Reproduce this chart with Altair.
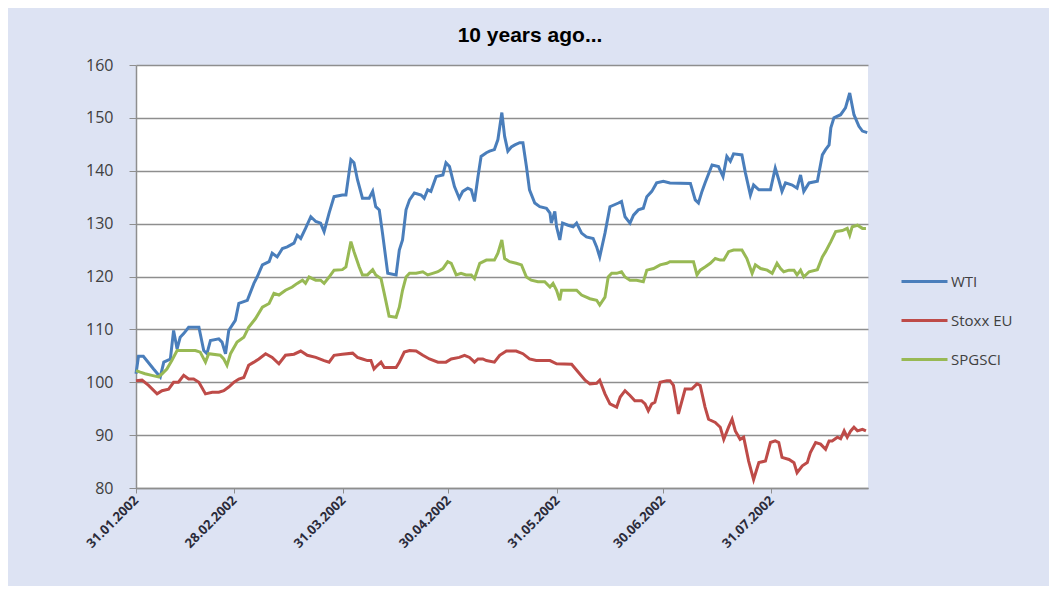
import altair as alt
import pandas as pd

# ---- data (days after 31.01.2002, index values) ----
series_names = ["WTI", "Stoxx EU", "SPGSCI"]
series_colors = ["#4a7ebb", "#be4b48", "#98b954"]
tick_dates = ["31.01.2002", "28.02.2002", "31.03.2002", "30.04.2002",
              "31.05.2002", "30.06.2002", "31.07.2002"]
y_ticks = [80, 90, 100, 110, 120, 130, 140, 150, 160]

wti_days = [0, 0.7, 2.1, 5, 6.9, 7.9, 9.8, 10.7, 11.7, 12.6, 13.6, 15, 17.9, 19.3, 20.2, 21.2,
            23.6, 24.5, 25.5, 26.4, 28.3, 29.3, 31.7, 33.6, 34.5, 36, 37.9, 38.8, 40.2, 41.7,
            43.1, 45, 45.9, 46.9, 48.3, 49.8,
            51.2, 52.6, 53.6, 55, 56.4, 58.8, 59.8, 61.2, 62.1, 63.1, 64.5, 66.4, 67.4, 68.3,
            69.3, 70.2, 71.7, 74.1, 75, 75.9, 76.9, 77.9, 79.3, 81.2, 82.1, 83.1, 84, 85.5,
            87.4, 88.3, 89.3, 90.7, 92.1, 93.1, 94.5, 95.5, 96.4, 97.4, 98.3, 99.8,
            100.7, 102.1, 103.1, 104.2, 105, 105.9, 106.9, 107.9, 109.3, 110.2, 111.2, 112.1,
            113.6, 115, 116.9, 117.9, 118.3, 119.3, 119.8, 120.7, 121.5, 123.1, 124.5, 125.5,
            126.9, 128.3, 130.2, 131.2, 132.1, 133.6, 135, 137.4, 138.3, 139.3, 140.7, 141.7,
            143.1, 144.5, 145.5, 146.9, 148.3, 150.2,
            152.1, 157.9, 159.3, 160.2, 161.2, 162.1, 164.1, 165.9, 167.2, 168.3, 169.3, 170.2,
            172.6, 173.6, 175, 175.9, 177.4, 180.7, 182.1, 183.1, 184, 185, 186.9, 188.3,
            189.3, 190.2, 191.7, 194.1, 195.5, 196.4, 197.4, 197.9, 198.8, 200.7, 202.1,
            203.3, 204.5, 205.9, 206.9, 208.3]
wti_vals = [101.6, 104.9, 104.9, 102.5, 101.0, 103.8, 104.4, 109.8, 106.3, 108.5, 109.2, 110.4,
            110.4, 106.0, 105.4, 107.9, 108.2, 107.6, 105.4, 109.8, 111.7, 114.9, 115.5, 118.7,
            119.9, 122.2, 122.8, 124.4, 123.7, 125.3, 125.6, 126.3, 127.8, 127.2, 129.1, 131.3,
            130.4, 130.1, 128.5, 132.0, 135.1, 135.4, 135.4, 142.1, 141.5, 138.3, 134.8, 134.8,
            136.1, 133.2, 132.6, 128.2, 120.6, 120.3, 125.0, 126.9, 132.6, 134.5, 135.8, 135.4,
            134.8, 136.4, 136.1, 138.9, 139.2, 141.5, 140.8, 137.0, 134.8, 136.1, 136.7, 136.4,
            134.2, 138.9, 142.7, 143.4,
            143.7, 144.0, 145.9, 151.0, 146.5, 143.7, 144.5, 144.9, 145.3, 145.3, 140.8, 136.4,
            133.9, 133.2, 132.9, 132.0, 130.1, 132.3, 129.4, 126.9, 130.1, 129.7, 129.4, 130.1,
            128.2, 127.5, 127.2, 125.6, 123.7, 128.2, 133.2, 133.9, 134.2, 131.3, 130.1, 131.6,
            132.6, 132.9, 135.1, 136.1, 137.7, 138.0,
            137.7, 137.6, 134.5, 133.9, 136.1, 137.7, 141.1, 140.8, 138.9, 142.7, 141.8, 143.2,
            143.0, 139.6, 135.4, 137.3, 136.4, 136.4, 140.5, 138.3, 136.1, 137.7, 137.3, 136.7,
            139.2, 136.1, 137.7, 138.0, 143.0, 144.0, 144.9, 148.1, 150.0, 150.6, 151.9,
            154.7, 150.6, 148.4, 147.5, 147.2]

stoxx_days = [0, 1.7, 3.6, 6, 7.4, 9.3, 10.7, 12.1, 13.6, 15, 16.4, 17.9, 19.8, 21.7, 23.6, 25,
              26.4, 27.9, 29.3, 30.7, 32.1, 33.6, 35, 36.9, 38.8, 40.7, 42.6, 45, 46.9, 48.8,
              51.2, 53.6, 55, 56.4, 58.8, 61.7, 63.1, 64.5, 65.9, 66.9, 67.8, 68.8, 69.8, 70.7,
              72.6, 74.1, 75, 76.4, 77.9, 79.8, 81.7, 83.6, 86, 88.3, 89.8, 92.1, 93.6, 95,
              96.4, 97.4, 98.8, 99.8,
              102.1, 103.6, 105.5, 108.3, 110.2, 112.1, 114, 117.9, 119.8, 124.1, 126, 127.9,
              129.3, 131.2, 132.1, 133.6, 135, 136.9, 137.9, 139.3, 140.7, 142.1, 144, 145,
              145.9, 146.9, 147.8, 149.3, 151.2,
              152.1, 153.1, 154.5, 156.4, 158.3, 159.8, 160.7, 162.1, 163.1, 165, 166.4, 167.4,
              168.8, 169.8, 170.7, 172.1, 173.1, 174.5, 175.9, 177.4, 179.3, 180.7, 182.1,
              183.1, 184, 186, 187.4, 188.3, 189.8, 191.2, 192.1, 193.6, 195, 196.4, 197.4,
              198.3, 199.8, 200.7, 201.7, 202.6, 203.6, 204.5, 205.5, 206.9, 207.9]
stoxx_vals = [100.3, 100.4, 99.4, 97.8, 98.4, 98.7, 100.0, 100.0, 101.3, 100.6, 100.6, 100.0,
              97.8, 98.1, 98.1, 98.4, 99.1, 100.0, 100.6, 100.9, 103.2, 103.8, 104.4, 105.4,
              104.7, 103.5, 105.1, 105.3, 105.9, 105.1,
              104.7, 104.1, 103.8, 105.1, 105.3, 105.5, 104.7, 104.4, 104.1, 104.1, 102.5, 103.2,
              103.8, 102.8, 102.8, 102.8, 103.8, 105.7, 106.0, 105.9, 105.1, 104.4, 103.8, 103.8,
              104.4, 104.7, 105.1, 104.7, 103.8, 104.4, 104.4, 104.1,
              103.8, 105.1, 105.9, 105.9, 105.4, 104.4, 104.1, 104.1, 103.5, 103.4, 101.9, 100.4,
              99.7, 99.8, 100.4, 97.8, 95.9, 95.3, 97.2, 98.4, 97.5, 96.5, 96.5, 95.9,
              94.6, 95.9, 96.2, 100.0, 100.3,
              100.3, 99.4, 94.0, 98.7, 98.7, 99.7, 99.4, 95.3, 93.0, 92.4, 91.5, 89.2,
              91.5, 93.0, 90.8, 89.2, 89.6, 85.1, 81.6, 84.8, 85.1, 88.6, 88.9,
              88.6, 85.8, 85.4, 84.8, 82.9, 84.2, 84.8, 86.7, 88.6, 88.3, 87.3, 88.9,
              88.9, 89.6, 89.3, 90.8, 89.6, 90.8, 91.5, 90.8, 91.1, 90.8]

gsci_days = [0, 1.2, 2.6, 4.5, 6.4, 7.4, 8.8, 10.2, 11.7, 13.1, 16.9, 18.3, 19.8, 20.7, 24, 25,
             25.9, 26.9, 28.8, 30.7, 32.1, 34, 36, 37.9, 39.3, 40.7, 42.6, 44.5, 45.9, 47.4, 48.3,
             49.3, 51.2, 52.6, 53.6, 55, 56.4, 58.8, 59.8, 61.2, 62.1, 63.6, 64.5, 65.9, 67.4,
             68.3, 69.8, 70.7, 72.1, 74.1, 75, 75.9, 76.9, 77.9, 79.8, 81.7, 83.1, 84.5, 86,
             87.4, 88.8, 89.8, 91.2, 92.6, 94, 95.5, 96.4, 97.9, 99.8,
             102.1, 103.1, 104.2, 105, 106.4, 108.3, 109.8, 111.2, 112.6, 114.5, 116.4, 117.9,
             118.8, 119.8, 120.7, 121.2, 123.6, 125.5, 126.9, 129.3, 131.2, 132.1, 133.6, 134.5,
             135.5, 136.9, 138.3, 139.3, 140.7, 142.6, 144.5, 145.5, 147.4, 149.3, 151.2,
             152.1, 158.8, 159.8, 160.7, 162.1, 163.6, 165, 166.4, 167.4, 168.8, 170.2, 172.6,
             174, 175.5, 176.4, 177.9, 179.8, 181.2, 182.6, 183.6, 184.5, 186, 187.4, 188.3,
             189.3, 190.2, 191.7, 194.1, 195.5, 196.4, 197.9, 199.3, 201.2, 202.6, 203.3, 204,
             205.5, 206.9, 207.9]
gsci_vals = [102.2, 101.9, 101.6, 101.3, 101.0, 101.6, 102.5, 104.1, 106.0, 106.0, 106.0, 105.7,
             103.8, 105.4, 105.1, 104.4, 103.2, 105.4, 107.6, 108.5, 110.4, 112.0, 114.2, 114.9,
             116.8, 116.5, 117.4, 118.0, 118.7, 119.3, 118.7,
             119.9, 119.3, 119.3, 118.7, 119.9, 121.2, 121.3, 121.8, 126.6, 124.7, 121.8, 120.3,
             120.3, 121.3, 120.3, 119.6, 116.8, 112.5, 112.3, 114.2, 117.4, 119.9, 120.6, 120.6,
             120.9, 120.3, 120.6, 120.9, 121.5, 122.8, 122.5, 120.3, 120.6, 120.3, 120.3, 119.6,
             122.5, 123.1,
             123.1, 124.4, 126.9, 123.4, 122.8, 122.5, 122.2, 119.9, 119.3, 119.0, 119.0, 118.0,
             118.7, 117.4, 115.5, 117.4, 117.4, 117.4, 116.5, 115.8, 115.5, 114.6, 116.1, 119.9,
             120.6, 120.6, 120.9, 119.9, 119.3, 119.3, 119.0, 121.2, 121.5, 122.2, 122.5,
             122.8, 122.8, 120.3, 121.2, 121.8, 122.5, 123.4, 123.1, 123.1, 124.7, 125.0, 125.0,
             123.4, 120.6, 122.2, 121.5, 121.2, 120.6, 122.5, 121.5, 120.9, 121.2, 121.2, 120.3,
             121.2, 119.9, 120.9, 121.3, 123.7, 124.7, 126.6, 128.5, 128.7, 129.1, 127.8, 129.4,
             129.7, 129.1, 129.1]

# ---- build the table ----
base = pd.Timestamp("2002-01-31")
rows = []
for name, days, vals in zip(series_names,
                            [wti_days, stoxx_days, gsci_days],
                            [wti_vals, stoxx_vals, gsci_vals]):
    for d, v in zip(days, vals):
        rows.append({"date": base + pd.Timedelta(hours=round(d * 24)), "value": v, "series": name})
df = pd.DataFrame(rows)
df["date"] = df["date"].dt.strftime("%Y-%m-%dT%H:%M:%S")


def to_dt(s, hours=0):
    d, m, y = (int(p) for p in s.split("."))
    return alt.DateTime(year=y, month=m, date=d, hours=hours)


x_values = [to_dt(s) for s in tick_dates]

FONT = "Open Sans"
GRID = "#8e8e8e"

chart = alt.Chart(df).mark_line(strokeWidth=3, interpolate="linear").encode(
    x=alt.X("date:T",
            scale=alt.Scale(domain=[to_dt("31.01.2002"), to_dt("27.08.2002", 12)]),
            axis=alt.Axis(values=x_values, format="%d.%m.%Y", labelAngle=-45,
                          labelAlign="right", labelBaseline="middle", title=None,
                          grid=False, domainColor=GRID, domainWidth=1.5,
                          tickColor=GRID, tickSize=5, labelPadding=5,
                          labelFont=FONT, labelFontSize=13, labelFontWeight="bold",
                          labelColor="#2b2b3a")),
    y=alt.Y("value:Q",
            scale=alt.Scale(domain=[80, 160], nice=False, zero=False),
            axis=alt.Axis(values=y_ticks, title=None, grid=True, gridColor=GRID,
                          gridWidth=1.3, domainColor=GRID, domainWidth=1.5,
                          tickColor=GRID, tickSize=7, labelPadding=16,
                          labelFont=FONT, labelFontSize=16, labelColor="#404040")),
    color=alt.Color("series:N",
                    scale=alt.Scale(domain=series_names, range=series_colors),
                    legend=alt.Legend(title=None, orient="none", legendX=764, legendY=192,
                                      symbolType="stroke", symbolSize=2116,
                                      symbolStrokeWidth=3, rowPadding=6, padding=0,
                                      labelOffset=2, labelFont=FONT, labelFontSize=15,
                                      labelColor="#404040")),
).properties(
    width=732,
    height=423,
    title=alt.TitleParams("10 years ago...", font="Liberation Sans", fontSize=21,
                          fontWeight="bold", color="#000000", anchor="middle", dx=28,
                          offset=11),
    padding={"left": 128, "top": 57, "right": 181, "bottom": 98},
    autosize=alt.AutoSizeParams(type="none"),
    background="#dde3f3",
).configure_view(
    fill="white", stroke=None
)

chart.save("out.html", embed_options={"renderer": "svg", "actions": False})
